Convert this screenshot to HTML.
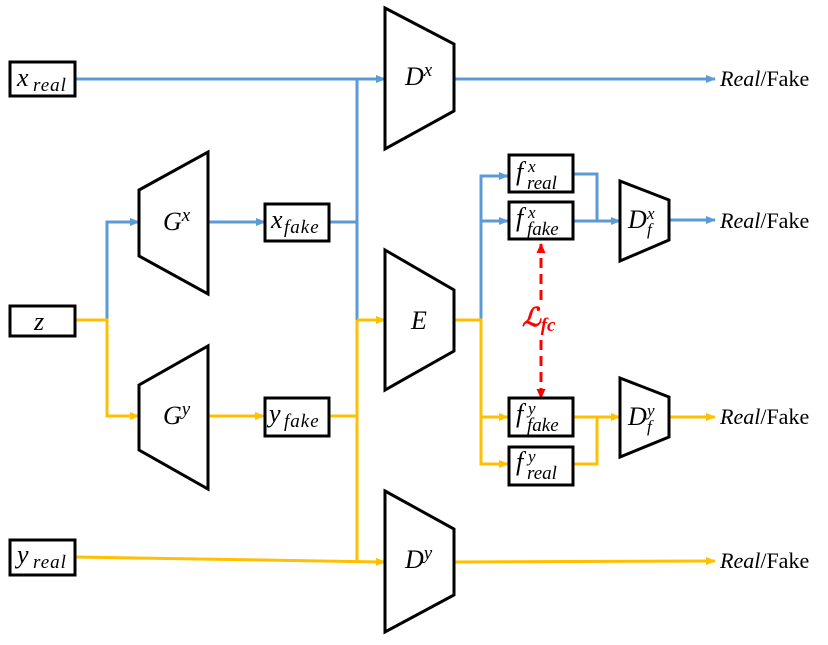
<!DOCTYPE html>
<html><head><meta charset="utf-8"><style>
html,body{margin:0;padding:0;background:#fff;}
svg text{font-family:"Liberation Serif",serif;font-style:italic;fill:#000;}
</style></head><body>
<svg width="828" height="640" viewBox="0 0 828 640" xmlns="http://www.w3.org/2000/svg">
<defs>
<marker id="ab" markerWidth="10" markerHeight="8" refX="9" refY="4" orient="auto" markerUnits="userSpaceOnUse"><path d="M0,0 L10,4 L0,8 z" fill="#5b9bd5"/></marker>
<marker id="ay" markerWidth="10" markerHeight="8" refX="9" refY="4" orient="auto" markerUnits="userSpaceOnUse"><path d="M0,0 L10,4 L0,8 z" fill="#ffc000"/></marker>
<marker id="ar" markerWidth="10" markerHeight="9" refX="9" refY="4.5" orient="auto" markerUnits="userSpaceOnUse"><path d="M0,0 L10,4.5 L0,9 z" fill="#ff0000"/></marker>
</defs>
<g fill="none" stroke-width="3">
<g stroke="#5b9bd5">
<path d="M75,79 L385,79" marker-end="url(#ab)"/>
<path d="M357,79 L357,320"/>
<path d="M329,222 L357,222"/>
<path d="M107,320 L107,222 L139,222" marker-end="url(#ab)"/>
<path d="M208,222 L265,222" marker-end="url(#ab)"/>
<path d="M454,79 L715,79" marker-end="url(#ab)"/>
<path d="M481,320 L481,176 L508,176" marker-end="url(#ab)"/>
<path d="M481,221 L508,221" marker-end="url(#ab)"/>
<path d="M573,174 L597,174 L597,221"/>
<path d="M573,221 L620,221" marker-end="url(#ab)"/>
<path d="M669,220 L715,220" marker-end="url(#ab)"/>
</g>
<g stroke="#ffc000">
<path d="M75,320 L107,320 L107,416 L139,416" marker-end="url(#ay)"/>
<path d="M208,416 L264,416" marker-end="url(#ay)"/>
<path d="M329,416 L357,416"/>
<path d="M357,320 L357,562"/>
<path d="M357,320 L385,320" marker-end="url(#ay)"/>
<path d="M75,557 L385,562" marker-end="url(#ay)"/>
<path d="M454,562 L715,561" marker-end="url(#ay)"/>
<path d="M454,320 L481,320 L481,464 L508,464" marker-end="url(#ay)"/>
<path d="M481,417 L508,417" marker-end="url(#ay)"/>
<path d="M573,464 L597,464 L597,417"/>
<path d="M573,417 L620,417" marker-end="url(#ay)"/>
<path d="M669,417 L715,417" marker-end="url(#ay)"/>
</g>
<path d="M541,300 L541,244" stroke="#ff0000" stroke-dasharray="10,6" marker-end="url(#ar)"/>
<path d="M541,340 L541,398" stroke="#ff0000" stroke-dasharray="10,6" marker-end="url(#ar)"/>
<g stroke="#000" fill="#fff" stroke-width="3">
<rect x="10" y="62" width="65" height="34"/>
<rect x="10" y="306" width="65" height="30"/>
<rect x="10" y="540" width="65" height="35"/>
<rect x="265" y="204" width="64" height="37"/>
<rect x="265" y="398" width="64" height="38"/>
<rect x="509" y="155" width="64" height="37"/>
<rect x="509" y="202" width="64" height="37"/>
<rect x="509" y="398" width="64" height="38"/>
<rect x="509" y="447" width="64" height="38"/>
<path d="M385,8 L454,44 L454,111 L385,149 Z"/>
<path d="M385,250 L454,290 L454,351 L385,390 Z"/>
<path d="M385,491 L454,529 L454,595 L385,632 Z"/>
<path d="M139,190 L208,152 L208,294 L139,256 Z"/>
<path d="M139,385 L208,346 L208,489 L139,450 Z"/>
<path d="M620,181 L669,200 L669,240 L620,261 Z"/>
<path d="M620,378 L669,397 L669,437 L620,457 Z"/>
</g>
</g>
<g font-size="26">
<text x="17" y="86">x<tspan x="33" font-size="19" dy="5" letter-spacing="1">real</tspan></text>
<text x="34" y="330">z</text>
<text x="17" y="563">y<tspan x="33" font-size="19" dy="5" letter-spacing="1">real</tspan></text>
<text x="271" y="228">x<tspan x="284" font-size="19" dy="5" letter-spacing="1">fake</tspan></text>
<text x="269" y="422">y<tspan x="284" font-size="19" dy="5" letter-spacing="1">fake</tspan></text>
<text x="405" y="85">D<tspan font-size="19" dy="-9">x</tspan></text>
<text x="411" y="329">E</text>
<text x="405" y="568">D<tspan font-size="19" dy="-9">y</tspan></text>
<text x="163" y="230">G<tspan font-size="19" dy="-9">x</tspan></text>
<text x="163" y="424">G<tspan font-size="19" dy="-9">y</tspan></text>
<g font-size="26">
<text x="516" y="180">f<tspan x="528" font-size="17" dy="-8">x</tspan><tspan x="527" font-size="19" dy="17">real</tspan></text>
<text x="516" y="226">f<tspan x="528" font-size="17" dy="-8">x</tspan><tspan x="527" font-size="19" dy="17">fake</tspan></text>
<text x="516" y="422">f<tspan x="528" font-size="17" dy="-8">y</tspan><tspan x="527" font-size="19" dy="17">fake</tspan></text>
<text x="516" y="470">f<tspan x="528" font-size="17" dy="-8">y</tspan><tspan x="527" font-size="19" dy="17">real</tspan></text>
<text x="628" y="228">D<tspan x="647" font-size="17" dy="-9">x</tspan><tspan x="647" font-size="17" dy="16">f</tspan></text>
<text x="628" y="425">D<tspan x="647" font-size="17" dy="-9">y</tspan><tspan x="647" font-size="17" dy="16">f</tspan></text>
</g>
<text x="522" y="326" style="fill:#ff0000;font-weight:bold">ℒ<tspan font-size="19" dy="5">fc</tspan></text>
<text x="720" y="86" font-size="22">Real<tspan font-style="normal">/Fake</tspan></text>
<text x="720" y="228" font-size="22">Real<tspan font-style="normal">/Fake</tspan></text>
<text x="720" y="424" font-size="22">Real<tspan font-style="normal">/Fake</tspan></text>
<text x="720" y="568" font-size="22">Real<tspan font-style="normal">/Fake</tspan></text>
</g>
</svg>
</body></html>
